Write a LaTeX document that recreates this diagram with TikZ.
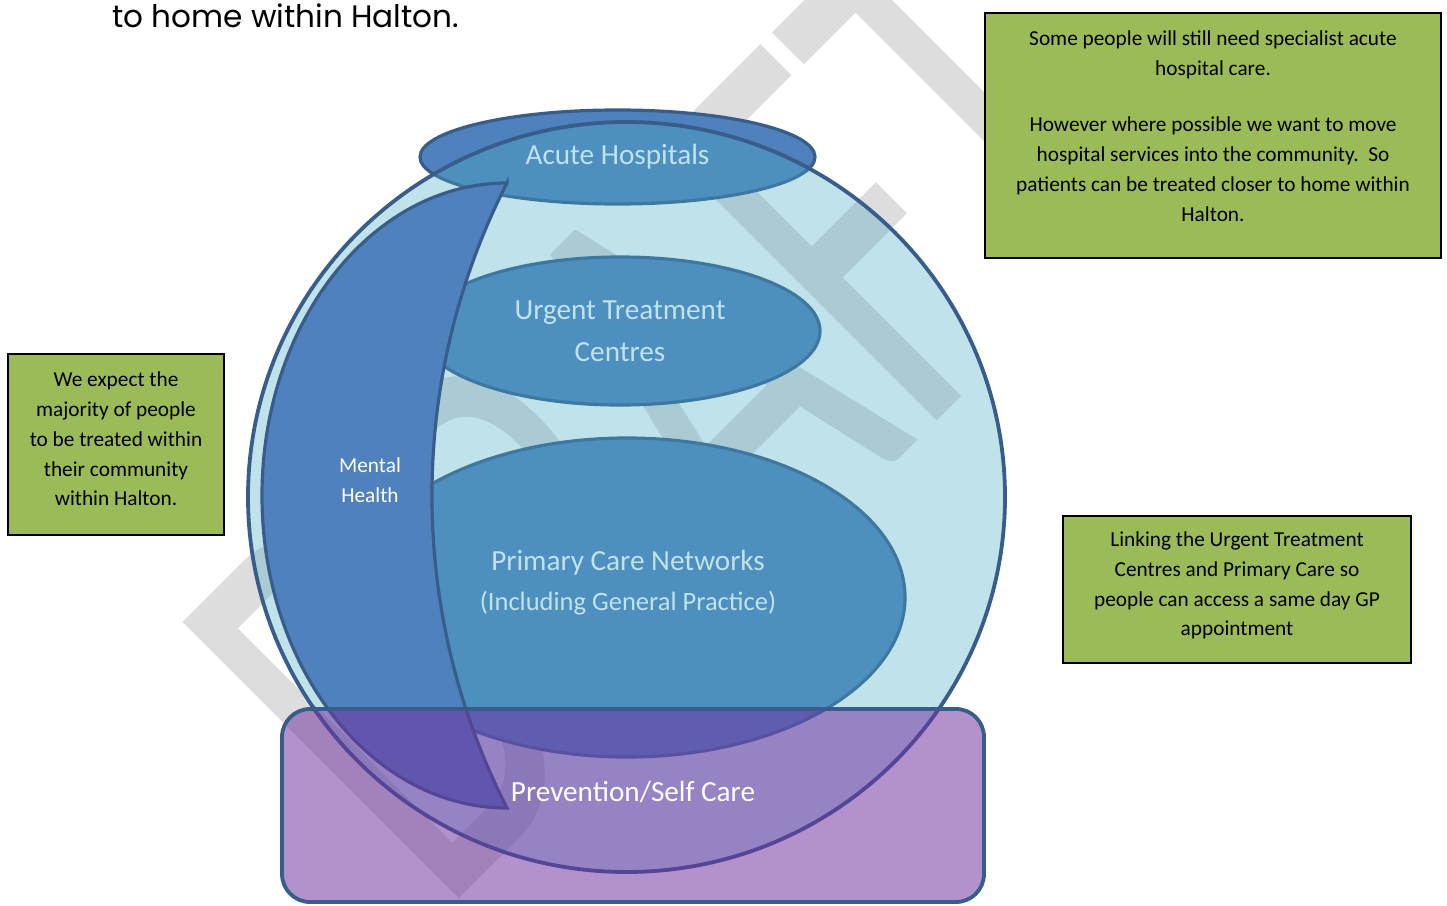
\documentclass[tikz,border=0pt]{standalone}
\usepackage{fontspec}
\usepackage{graphicx}
\setmainfont{Carlito}
\newfontfamily\gothic{Poppins}
\usetikzlibrary{shapes.geometric}
\definecolor{wmgray}{RGB}{221,221,221}
\definecolor{accblue}{RGB}{79,129,189}
\definecolor{edgeblue}{RGB}{56,93,138}
\definecolor{aqua}{RGB}{75,172,198}
\definecolor{purp}{RGB}{112,48,160}
\definecolor{olive}{RGB}{155,187,89}
\begin{document}
\begin{tikzpicture}[x=1pt,y=-1pt,
  oval/.style={ellipse, draw=edgeblue, line width=3.2pt, fill=accblue, inner sep=0pt,
    text=white, font=\fontsize{29.2}{42}\selectfont, align=center},
  biglabel/.style={text=white, font=\fontsize{29.2}{40}\selectfont, align=center, inner sep=0pt},
  note/.style={draw=black, line width=2pt, fill=olive, inner sep=0pt},
  notetext/.style={font=\fontsize{21.3}{29.8}\selectfont, align=center, inner sep=0pt, text=black}]
\useasboundingbox (0,0) rectangle (1447,905);
\fill[white] (0,0) rectangle (1447,905);
% watermark
\node[anchor=base west, rotate=45, inner sep=0pt, text=wmgray,
  font=\fontsize{609}{609}\selectfont] (wm) at (440,918) {\scalebox{0.64}[1]{DRAFT}};
% top text
\node[anchor=base west, inner sep=0pt, font=\gothic\fontsize{20}{24}\selectfont] (toptext) at (112,27)
  {\resizebox{347pt}{!}{to home within Halton.}};
% ellipses
\node[oval, minimum width=395pt, minimum height=94pt] (acute) at (617.5,157) {\raisebox{-1pt}{Acute Hospitals}};
\node[oval, minimum width=400pt, minimum height=148pt] (utc) at (620,331) {Urgent Treatment\\Centres};
\node[oval, minimum width=556pt, minimum height=319pt] (pcn) at (627,597.5) {};
\node[biglabel] (pcntext) at (628,583) {Primary Care Networks\\{\fontsize{26.5}{40}\selectfont (Including General Practice)}};
% globe
\node[ellipse, minimum width=757pt, minimum height=750pt, draw=edgeblue, line width=3.8pt,
  fill=aqua, fill opacity=0.35, draw opacity=1, inner sep=0pt] (globe) at (626.5,497) {};
% crescent (mental health)
\draw[edgeblue, line width=3.2pt, fill=accblue]
  (507,183) arc[start angle=90, end angle=270, x radius=245pt, y radius=312.5pt]
  arc[start angle=207, end angle=153, radius=688.5pt] -- cycle;
\node[text=white, font=\fontsize{21.3}{30}\selectfont, align=center, inner sep=0pt] (mh) at (370,480) {Mental\\Health};
% prevention
\node[draw=edgeblue, line width=3.8pt, fill=purp, fill opacity=0.53, draw opacity=1,
  rounded corners=28pt, minimum width=702pt, minimum height=193pt, inner sep=0pt] (prev) at (633,805.5) {};
\node[biglabel] (prevtext) at (633,792) {Prevention/Self Care};
% notes
\node[note, minimum width=456pt, minimum height=245pt] (hosp) at (1213,135.5) {};
\node[notetext] (hosptext) at (1213,126) {Some people will still need specialist acute\\hospital care.\\[27pt]However where possible we want to move\\hospital services into the community.\ \ So\\patients can be treated closer to home within\\Halton.};
\node[note, minimum width=216pt, minimum height=181pt] (leftnote) at (116,444.5) {};
\node[notetext] (lefttext) at (116,439) {We expect the\\majority of people\\to be treated within\\their community\\within Halton.};
\node[note, minimum width=348pt, minimum height=147pt] (link) at (1237,589.5) {};
\node[notetext] (linktext) at (1237,585.5) {Linking the Urgent Treatment\\Centres and Primary Care so\\people can access a same day GP\\appointment};
\end{tikzpicture}
\end{document}
